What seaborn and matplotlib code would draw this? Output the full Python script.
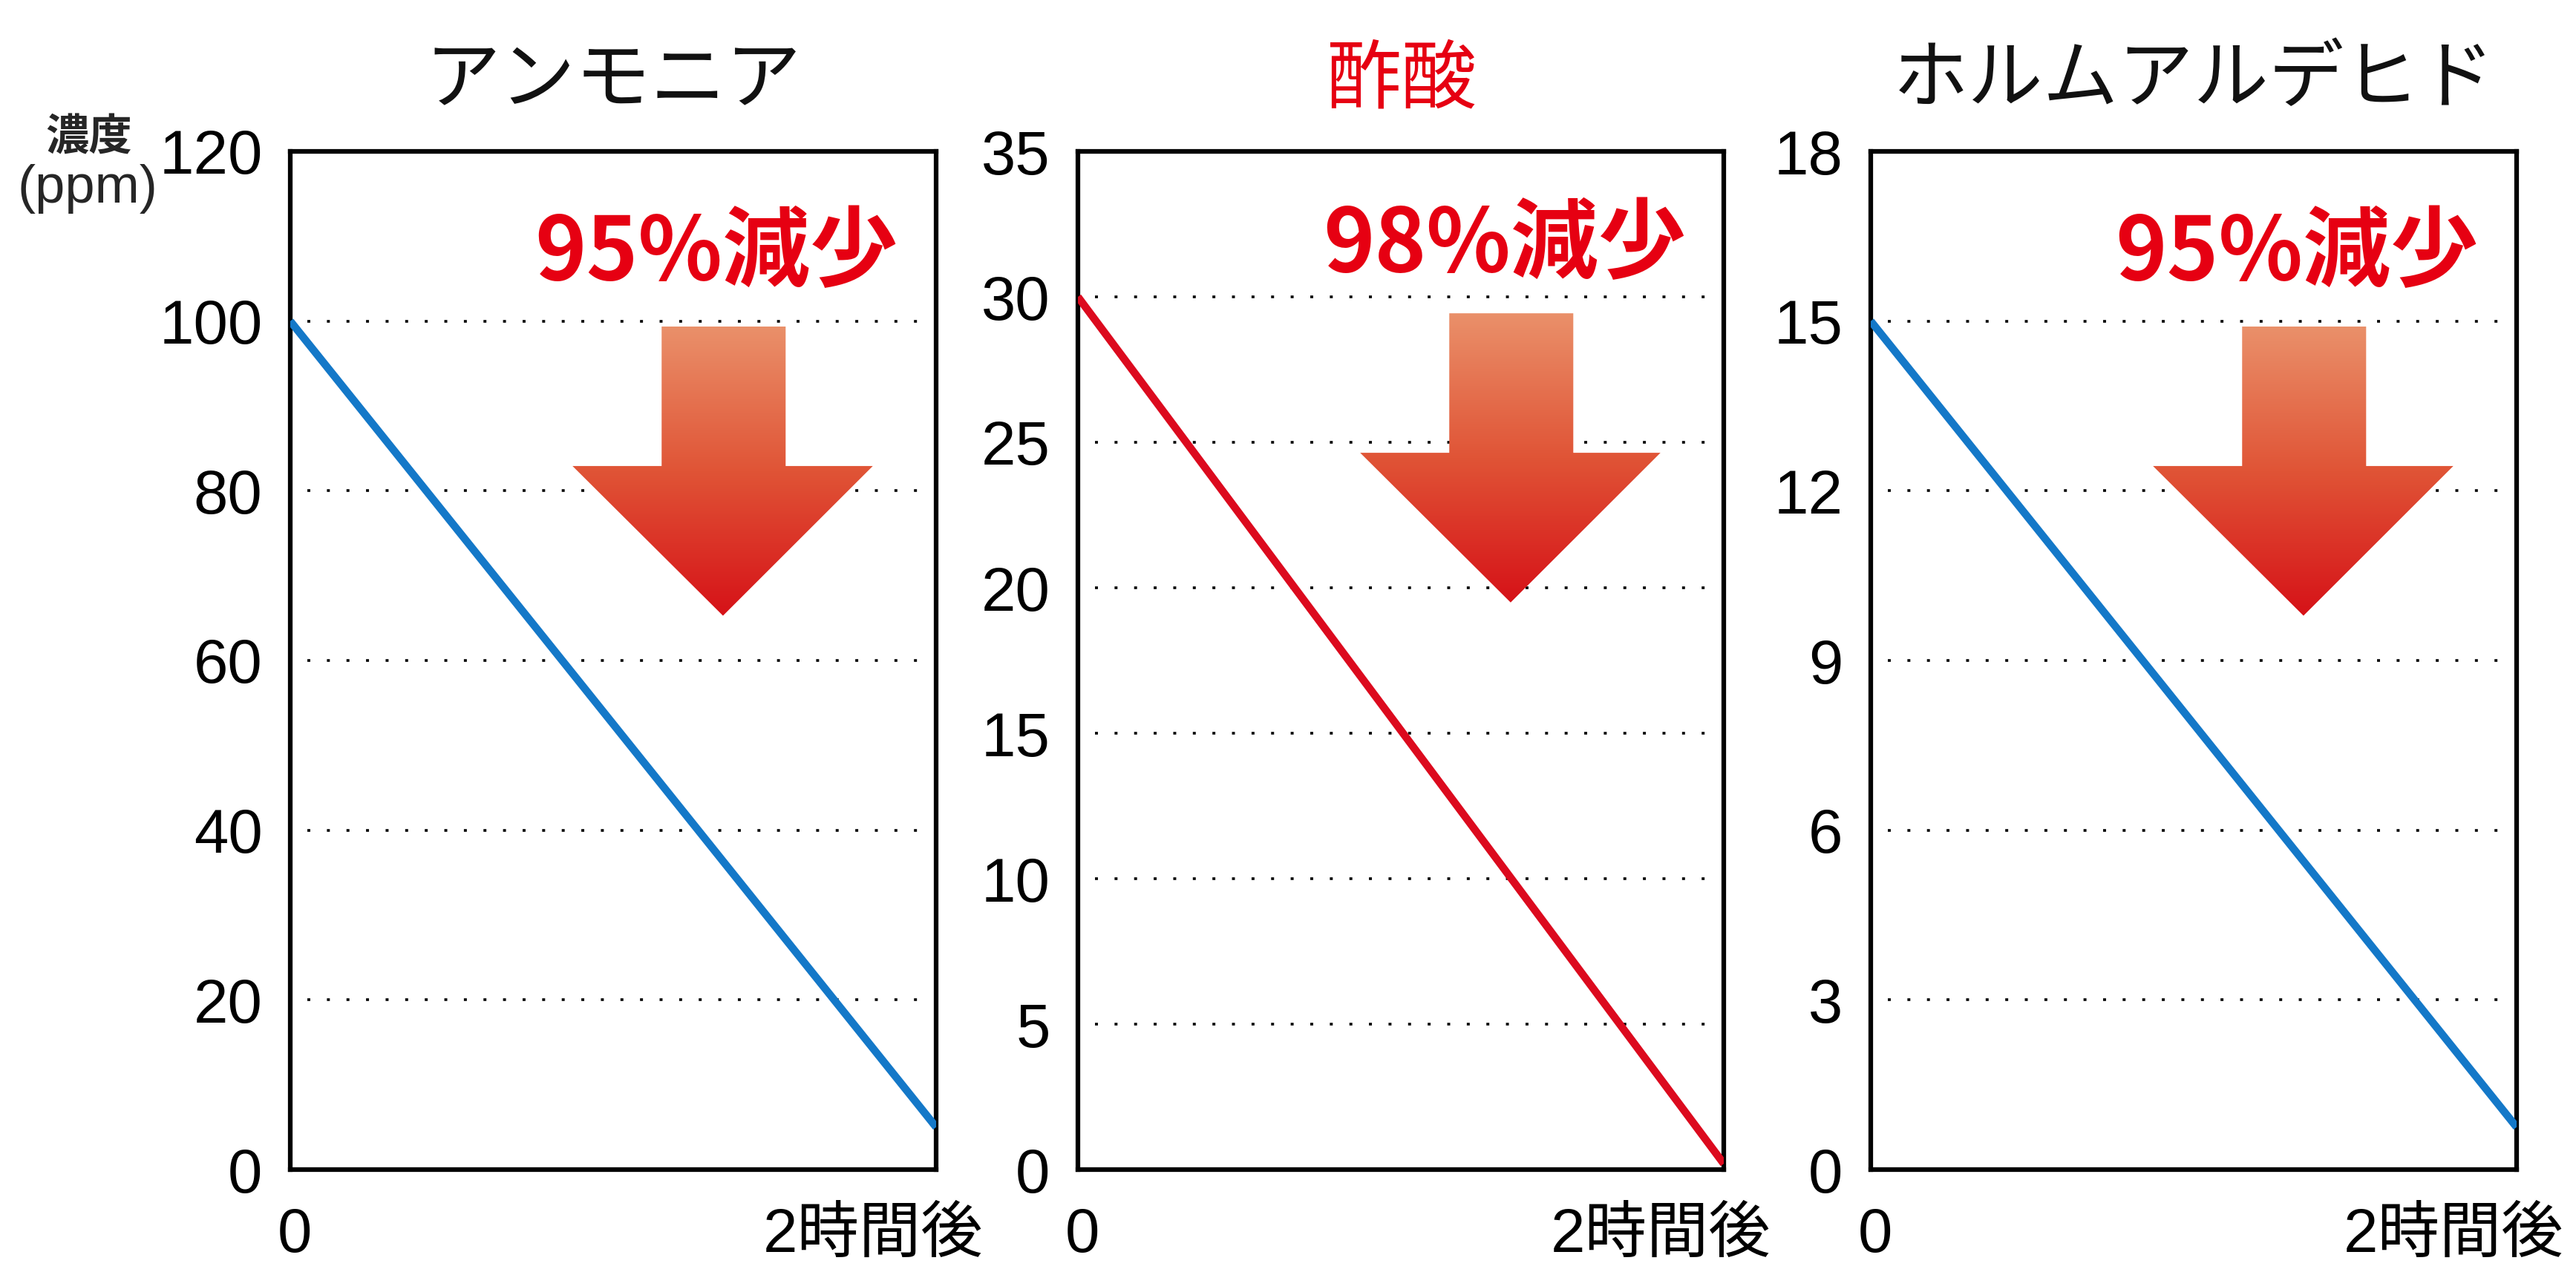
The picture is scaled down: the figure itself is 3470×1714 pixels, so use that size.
import numpy as np
import pandas as pd
import matplotlib
matplotlib.use('Agg')
import matplotlib.pyplot as plt
import seaborn as sns
from matplotlib.patches import Polygon
from matplotlib.transforms import ScaledTranslation

# ---------------- data ----------------
titles = ['アンモニア', '酢酸', 'ホルムアルデヒド']
time_points = [0, 2]
ammonia = [100, 5]
acetic = [30, 0.2]
formaldehyde = [15, 0.75]
series = [ammonia, acetic, formaldehyde]
y_max = [120, 35, 18]
y_step = [20, 5, 3]
reduction_labels = ['95%減少', '98%減少', '95%減少']
x_tick_labels = ['0', '2時間後']
y_axis_label = ['濃度', '(ppm)']

# ---------------- style ----------------
title_colors = ['#111111', '#e60012', '#111111']
line_colors = ['#1478c8', '#dc0a1e', '#1478c8']
RED = '#e60012'

sns.set_style('white')
plt.rcParams['font.family'] = ['Liberation Sans', 'Noto Sans CJK JP', 'DejaVu Sans']

W, H, DPI = 3470, 1714, 100
fig = plt.figure(figsize=(W / DPI, H / DPI), dpi=DPI)
fig.patch.set_facecolor('white')

lefts = [391 / W, 1452 / W, 2520 / W]
ax_w = 870 / W
ax_b = 1 - 1576 / H
ax_h = 1372 / H
arrow_dy = [0.0, 0.013, 0.0]
text_dy = [0.0, 0.008, 0.0]

# gradient for the arrow (top -> bottom)
top_c = np.array([234, 144, 106]) / 255
mid_c = np.array([224, 84, 54]) / 255
bot_c = np.array([214, 18, 24]) / 255
n = 256
t = np.linspace(0, 1, n)[:, None]
grad = np.where(t < 0.5, top_c + (mid_c - top_c) * (t / 0.5),
                mid_c + (bot_c - mid_c) * ((t - 0.5) / 0.5))
grad_img = np.repeat(grad[:, None, :], 4, axis=1)

for i in range(3):
    ax = fig.add_axes([lefts[i], ax_b, ax_w, ax_h])
    df = pd.DataFrame({'time': time_points, 'value': series[i]})
    sns.lineplot(data=df, x='time', y='value', ax=ax, color=line_colors[i],
                 linewidth=7.5, solid_capstyle='butt', zorder=5)

    ticks = np.arange(0, y_max[i] + 0.001, y_step[i])
    for yv in ticks[1:-1]:
        ax.axhline(yv, xmin=0.027, xmax=0.973, color='black', linewidth=2.6,
                   linestyle=(0, (1.1, 6.2)), zorder=2)

    # decorative arrow with gradient
    dy = arrow_dy[i]
    verts = [(0.575, 0.828), (0.767, 0.828), (0.767, 0.691), (0.902, 0.691),
             (0.670, 0.544), (0.437, 0.691), (0.575, 0.691)]
    verts = [(x, y + dy) for x, y in verts]
    poly = Polygon(verts, closed=True, transform=ax.transAxes,
                   facecolor='none', edgecolor='none')
    ax.add_patch(poly)
    im = ax.imshow(grad_img, extent=[0.43, 0.91, 0.544 + dy, 0.828 + dy],
                   transform=ax.transAxes, aspect='auto', origin='upper',
                   interpolation='bilinear', zorder=3)
    im.set_clip_path(poly)

    ax.text(0.66, 0.899 + text_dy[i], reduction_labels[i], transform=ax.transAxes,
            ha='center', va='center', color=RED, fontsize=85, fontweight='bold',
            family=['Noto Sans CJK JP'], zorder=6)

    ax.set_xlim(0, 2)
    ax.set_ylim(0, y_max[i])
    ax.set_yticks(ticks)
    ax.set_yticklabels([f'{int(v)}' for v in ticks])
    ax.set_xticks(time_points)
    ax.set_xticklabels(x_tick_labels)
    ax.set_xlabel('')
    ax.set_ylabel('')
    ax.tick_params(axis='y', length=0, pad=27, labelsize=60, labelcolor='black')
    ax.tick_params(axis='x', length=0, pad=80, labelsize=60, labelcolor='black')
    for s in ax.spines.values():
        s.set_visible(True)
        s.set_color('black')
        s.set_linewidth(4.5)
    ax.set_title(titles[i], fontsize=73, color=title_colors[i], pad=48,
                 family=['Noto Sans CJK JP'])

    xl = ax.get_xticklabels()
    for lab in xl:
        lab.set_va('baseline')
    xl[0].set_transform(xl[0].get_transform() + ScaledTranslation(0.06, 0, fig.dpi_scale_trans))
    xl[1].set_transform(xl[1].get_transform() + ScaledTranslation(-0.85, 0, fig.dpi_scale_trans))

fig.text(120 / W, 1 - 185 / H, y_axis_label[0], ha='center', va='center',
         fontsize=42, fontweight='bold', family=['Noto Sans CJK JP'])
fig.text(118 / W, 1 - 255 / H, y_axis_label[1], ha='center', va='center',
         fontsize=52)

fig.savefig('out.png', dpi=DPI, facecolor='white')
